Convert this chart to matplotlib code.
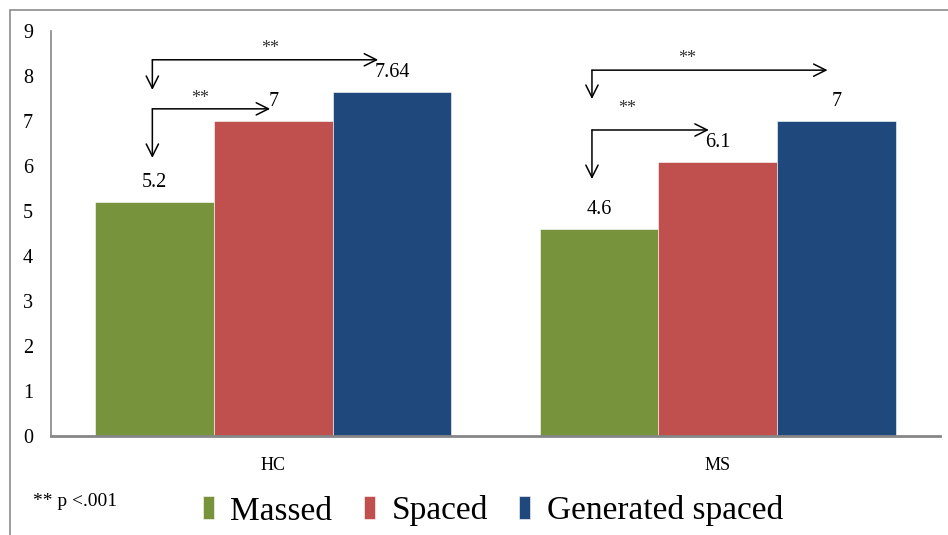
import matplotlib.pyplot as plt
import numpy as np
from matplotlib.patches import Rectangle

plt.rcParams['font.family'] = ['Liberation Serif', 'DejaVu Serif']

# data
groups = ['HC', 'MS']
conditions = ['Massed', 'Spaced', 'Generated spaced']
massed = [5.2, 4.6]
spaced = [7.0, 6.1]
gen_spaced = [7.64, 7.0]
value_labels = [['5.2', '4.6'], ['7', '6.1'], ['7.64', '7']]
colors = ['#77933C', '#C0504D', '#1F497D']

fig = plt.figure(figsize=(9.48, 5.35), dpi=100)

# outer chart border (top and left edges visible)
fig.add_artist(Rectangle((10 / 948, -0.1), 1.2, 1 - 10 / 535 + 0.1,
                         transform=fig.transFigure, fill=False,
                         edgecolor='#8c8c8c', linewidth=1.2))

ax = fig.add_axes([51 / 948, 1 - 436 / 535, 889 / 948, 405 / 535])

x = np.arange(len(groups))
w = 0.267
series = [massed, spaced, gen_spaced]
for i, vals in enumerate(series):
    pos = x + (i - 1) * w
    ax.bar(pos, vals, w, color=colors[i], label=conditions[i],
           edgecolor='white', linewidth=0.4)
    for p, v, lab in zip(pos, vals, value_labels[i]):
        ax.annotate(lab, (p, v), xytext=(0, 7), textcoords='offset points',
                    ha='center', va='bottom', fontsize=14.5)

ax.set_xlim(-0.5, 1.5)
ax.set_ylim(0, 9)
ax.set_yticks(range(10))
ax.set_xticks(x)
ax.set_xticklabels(groups, fontsize=13)
ax.tick_params(axis='y', length=0, labelsize=14.5, pad=13)
ax.tick_params(axis='x', length=0, pad=15)
for s in ['top', 'right']:
    ax.spines[s].set_visible(False)
ax.spines['left'].set_color('#868686')
ax.spines['left'].set_linewidth(1.2)
ax.spines['bottom'].set_color('#868686')
ax.spines['bottom'].set_linewidth(2.0)


# significance brackets: horizontal arrow to the right, vertical arrow down
def bracket(x0, x1, y, ydown, tx, ty):
    ax.annotate('', xy=(x1, y), xytext=(x0, y),
                arrowprops=dict(arrowstyle='->', color='black', lw=1.1,
                                shrinkA=0, shrinkB=0, mutation_scale=22))
    ax.annotate('', xy=(x0, ydown), xytext=(x0, y),
                arrowprops=dict(arrowstyle='->', color='black', lw=1.1,
                                shrinkA=0, shrinkB=0, mutation_scale=22))
    ax.text(tx, ty, '**', ha='center', va='center', fontsize=13, color='#333333')


bracket(-0.272, 0.236, 8.36, 7.69, -0.007, 8.62)
bracket(-0.272, -0.007, 7.27, 6.18, -0.164, 7.51)
bracket(0.717, 1.247, 8.13, 7.49, 0.930, 8.38)
bracket(0.717, 0.980, 6.80, 5.71, 0.797, 7.27)

fig.text(33 / 948, 1 - 501 / 535, '** p <.001', fontsize=14, va='center', ha='left')

fig.legend(loc='center left', bbox_to_anchor=(203 / 948, 1 - 511 / 535),
           ncol=3, frameon=False, fontsize=24, handlelength=0.32,
           handleheight=0.68, handletextpad=0.5, columnspacing=0.95,
           borderaxespad=0, borderpad=0)

fig.savefig('out.png', dpi=100)
